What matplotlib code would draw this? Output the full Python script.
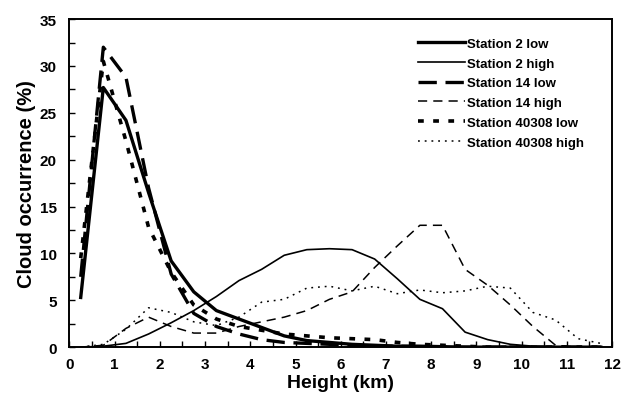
import numpy as np
import matplotlib
matplotlib.use("Agg")
import matplotlib.pyplot as plt
from matplotlib.ticker import MultipleLocator

plt.rcParams['font.family'] = ['Liberation Sans', 'DejaVu Sans']
plt.rcParams['font.weight'] = 'bold'

# heights of the bins (km)
height = [0.25, 0.75, 1.25, 1.75, 2.25, 2.75, 3.25, 3.75, 4.25, 4.75, 5.25, 5.75,
          6.25, 6.75, 7.25, 7.75, 8.25, 8.75, 9.25, 9.75, 10.25, 10.75, 11.25, 11.75]

# cloud occurrence (%)
st2_low = [5.3, 27.7, 24.2, 16.5, 9.2, 5.9, 3.9, 3.0, 2.1, 1.2, 0.7, 0.5,
           0.3, 0.2, 0.1, 0.1, 0.05, 0.0, 0.0, 0.0, 0.0, 0.0, 0.0, 0.0]
st2_high = [0.0, 0.1, 0.4, 1.4, 2.6, 3.9, 5.4, 7.1, 8.3, 9.8, 10.4, 10.5,
            10.4, 9.4, 7.3, 5.1, 4.1, 1.6, 0.8, 0.3, 0.1, 0.0, 0.0, 0.0]
st14_low = [7.5, 32.0, 28.8, 17.0, 7.8, 3.6, 2.2, 1.4, 0.8, 0.5, 0.4, 0.3,
            0.2, 0.1, 0.1, 0.05, 0.0, 0.0, 0.0, 0.0, 0.0, 0.0, 0.0, 0.0]
st14_high = [0.0, 0.2, 2.0, 3.2, 2.2, 1.5, 1.5, 2.2, 2.7, 3.2, 3.9, 5.1,
             5.9, 8.5, 10.8, 13.0, 13.0, 8.3, 6.6, 4.5, 2.2, 0.2, 0.0, 0.0]
st40308_low = [9.5, 30.5, 22.0, 12.8, 8.0, 4.5, 3.0, 2.2, 1.8, 1.4, 1.2, 1.0,
               0.9, 0.8, 0.5, 0.3, 0.2, 0.1, 0.0, 0.0, 0.0, 0.0, 0.0, 0.0]
st40308_high = [0.0, 0.3, 1.9, 4.2, 3.7, 2.7, 2.3, 3.2, 4.8, 5.1, 6.3, 6.5,
                6.0, 6.5, 5.7, 6.1, 5.8, 6.0, 6.5, 6.3, 3.7, 2.9, 0.9, 0.4]

labels = ["Station 2 low", "Station 2 high", "Station 14 low",
          "Station 14 high", "Station 40308 low", "Station 40308 high"]

fig = plt.figure(figsize=(6.31, 4.02), dpi=100)
ax = fig.add_axes([0.110, 0.134, 0.860, 0.816])

ax.plot(height, st2_low, color='black', lw=2.4, label=labels[0])
ax.plot(height, st2_high, color='black', lw=1.2, label=labels[1])
ax.plot(height, st14_low, color='black', lw=2.4, dashes=(5.5, 2.6), label=labels[2])
ax.plot(height, st14_high, color='black', lw=1.1, dashes=(6, 4), label=labels[3])
ax.plot(height, st40308_low, color='black', lw=2.6, dashes=(1.6, 2.6), label=labels[4])
ax.plot(height, st40308_high, color='black', lw=1.1, dashes=(1.2, 3.2), label=labels[5])

ax.set_xlim(0, 12)
ax.set_ylim(0, 35)
ax.xaxis.set_major_locator(MultipleLocator(1))
ax.xaxis.set_minor_locator(MultipleLocator(0.5))
ax.yaxis.set_major_locator(MultipleLocator(5))
ax.yaxis.set_minor_locator(MultipleLocator(2.5))
ax.tick_params(which='both', direction='in', length=4, width=1, top=False, right=False)
ax.tick_params(axis='x', which='major', labelsize=11, pad=7)
ax.tick_params(axis='y', which='major', labelsize=11, pad=9)
for s in ax.spines.values():
    s.set_linewidth(1.4)

ax.set_xlabel("Height (km)", fontsize=14, fontweight='bold', labelpad=2)
ax.set_ylabel("Cloud occurrence (%)", fontsize=14.5, fontweight='bold', labelpad=3)

leg = ax.legend(loc='upper left', bbox_to_anchor=(0.62, 0.98), frameon=False,
                fontsize=9.5, handlelength=3.6, handletextpad=0.15, labelspacing=0.57)

fig.savefig("out.png", dpi=100)
